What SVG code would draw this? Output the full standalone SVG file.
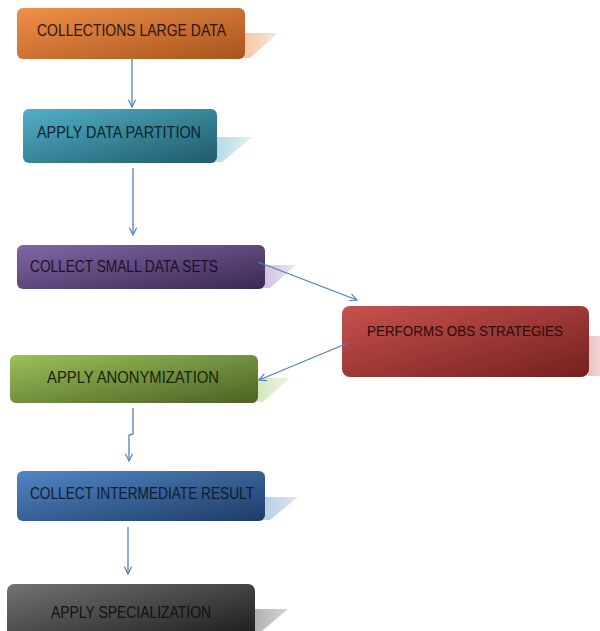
<svg xmlns="http://www.w3.org/2000/svg" width="600" height="631" viewBox="0 0 600 631">
<defs>
<style>
.lbl{font-family:"Liberation Sans",Arial,sans-serif;font-size:17px;text-anchor:middle}
.sm{font-size:15.5px}
.conn{fill:none;stroke:#4f81bd;stroke-width:1.3}
.shd{stroke:none}
</style>
<marker id="arr" viewBox="0 0 10 10" refX="9" refY="5" markerWidth="9" markerHeight="9" markerUnits="userSpaceOnUse" orient="auto">
<path d="M1,1 L9,5 L1,9" fill="none" stroke="#4f81bd" stroke-width="1.3"/>
</marker>
<linearGradient id="gO" x1="0" y1="0" x2="1" y2="1"><stop offset="0" stop-color="#f0904a"/><stop offset="1" stop-color="#a9541c"/></linearGradient>
<linearGradient id="gT" x1="0" y1="0" x2="1" y2="1"><stop offset="0" stop-color="#52b0c8"/><stop offset="1" stop-color="#1f5a6b"/></linearGradient>
<linearGradient id="gP" x1="0" y1="0" x2="1" y2="1"><stop offset="0" stop-color="#8266a6"/><stop offset="1" stop-color="#3a2a52"/></linearGradient>
<linearGradient id="gR" x1="0" y1="0" x2="1" y2="1"><stop offset="0" stop-color="#c8524f"/><stop offset="1" stop-color="#73201f"/></linearGradient>
<linearGradient id="gG" x1="0" y1="0" x2="1" y2="1"><stop offset="0" stop-color="#9cc05a"/><stop offset="1" stop-color="#4a6224"/></linearGradient>
<linearGradient id="gB" x1="0" y1="0" x2="1" y2="1"><stop offset="0" stop-color="#5286c4"/><stop offset="1" stop-color="#1d3c66"/></linearGradient>
<linearGradient id="gK" x1="0" y1="0" x2="1" y2="1"><stop offset="0" stop-color="#737373"/><stop offset="1" stop-color="#151515"/></linearGradient>
<linearGradient id="sO" x1="0" y1="0" x2="1" y2="0"><stop offset="0" stop-color="#f3c7a6"/><stop offset="1" stop-color="#fbe6d6"/></linearGradient>
<linearGradient id="sT" x1="0" y1="0" x2="1" y2="0"><stop offset="0" stop-color="#b5dbe5"/><stop offset="1" stop-color="#e0f0f4"/></linearGradient>
<linearGradient id="sP" x1="0" y1="0" x2="1" y2="0"><stop offset="0" stop-color="#cfc3de"/><stop offset="1" stop-color="#ece6f3"/></linearGradient>
<linearGradient id="sR" x1="0" y1="0" x2="1" y2="0"><stop offset="0" stop-color="#eac0bf"/><stop offset="1" stop-color="#f3d6d5"/></linearGradient>
<linearGradient id="sG" x1="0" y1="0" x2="1" y2="0"><stop offset="0" stop-color="#d7e6bd"/><stop offset="1" stop-color="#edf4e2"/></linearGradient>
<linearGradient id="sB" x1="0" y1="0" x2="1" y2="0"><stop offset="0" stop-color="#b9cde6"/><stop offset="1" stop-color="#dfe8f4"/></linearGradient>
<linearGradient id="sK" x1="0" y1="0" x2="1" y2="0"><stop offset="0" stop-color="#b0b0b0"/><stop offset="1" stop-color="#d6d6d6"/></linearGradient>
</defs>
<rect width="600" height="631" fill="#ffffff"/>

<g id="n1">
<polygon class="shd" fill="url(#sO)" points="244,33 278,33 250,58 244,58"/>
<rect x="17" y="8" width="228" height="51" rx="6" fill="url(#gO)"/>
<text class="lbl" x="131.5" y="36" fill="#2b160a" textLength="189" lengthAdjust="spacingAndGlyphs">COLLECTIONS LARGE DATA</text>
</g>

<g id="n2">
<polygon class="shd" fill="url(#sT)" points="216,137 252,137 222,162 216,162"/>
<rect x="23" y="109" width="194" height="54" rx="6" fill="url(#gT)"/>
<text class="lbl" x="119" y="138" fill="#0e2229" textLength="164" lengthAdjust="spacingAndGlyphs">APPLY DATA PARTITION</text>
</g>

<g id="n3">
<polygon class="shd" fill="url(#sP)" points="264,265 296,265 270,288 264,288"/>
<rect x="17" y="245" width="248" height="44" rx="6" fill="url(#gP)"/>
<text class="lbl" x="124" y="272" fill="#1a1028" textLength="188" lengthAdjust="spacingAndGlyphs">COLLECT SMALL DATA SETS</text>
</g>

<g id="n4">
<polygon class="shd" fill="url(#sR)" points="588,336 600,336 600,376 588,376"/>
<rect x="342" y="306" width="247" height="71" rx="8" fill="url(#gR)"/>
<text class="lbl sm" x="465" y="335.5" fill="#2a0b0b" textLength="196" lengthAdjust="spacingAndGlyphs">PERFORMS OBS STRATEGIES</text>
</g>

<g id="n5">
<polygon class="shd" fill="url(#sG)" points="257,378 290,378 263,402 257,402"/>
<rect x="10" y="355" width="248" height="48" rx="6" fill="url(#gG)"/>
<text class="lbl" x="133" y="383" fill="#1a2208" textLength="172" lengthAdjust="spacingAndGlyphs">APPLY ANONYMIZATION</text>
</g>

<g id="n6">
<polygon class="shd" fill="url(#sB)" points="264,497 298,497 270,520 264,520"/>
<rect x="17" y="471" width="248" height="50" rx="6" fill="url(#gB)"/>
<text class="lbl" x="142" y="499" fill="#0d1a30" textLength="224" lengthAdjust="spacingAndGlyphs">COLLECT INTERMEDIATE RESULT</text>
</g>

<g id="n7">
<polygon class="shd" fill="url(#sK)" points="254,609 288,609 262,631 254,631"/>
<rect x="7" y="584" width="248" height="62" rx="7" fill="url(#gK)"/>
<text class="lbl" x="131" y="618" fill="#111111" textLength="160" lengthAdjust="spacingAndGlyphs">APPLY SPECIALIZATION</text>
</g>

<g id="connectors">
<line class="conn" x1="132" y1="59" x2="132" y2="107" marker-end="url(#arr)"/>
<line class="conn" x1="133" y1="168" x2="133" y2="235" marker-end="url(#arr)"/>
<line class="conn" x1="258" y1="262" x2="357" y2="300" marker-end="url(#arr)"/>
<line class="conn" x1="348" y1="343" x2="259" y2="380" marker-end="url(#arr)"/>
<polyline class="conn" points="133,408 133,434 129,435 129,461" marker-end="url(#arr)"/>
<line class="conn" x1="128" y1="527" x2="128" y2="574" marker-end="url(#arr)"/>
</g>
</svg>
